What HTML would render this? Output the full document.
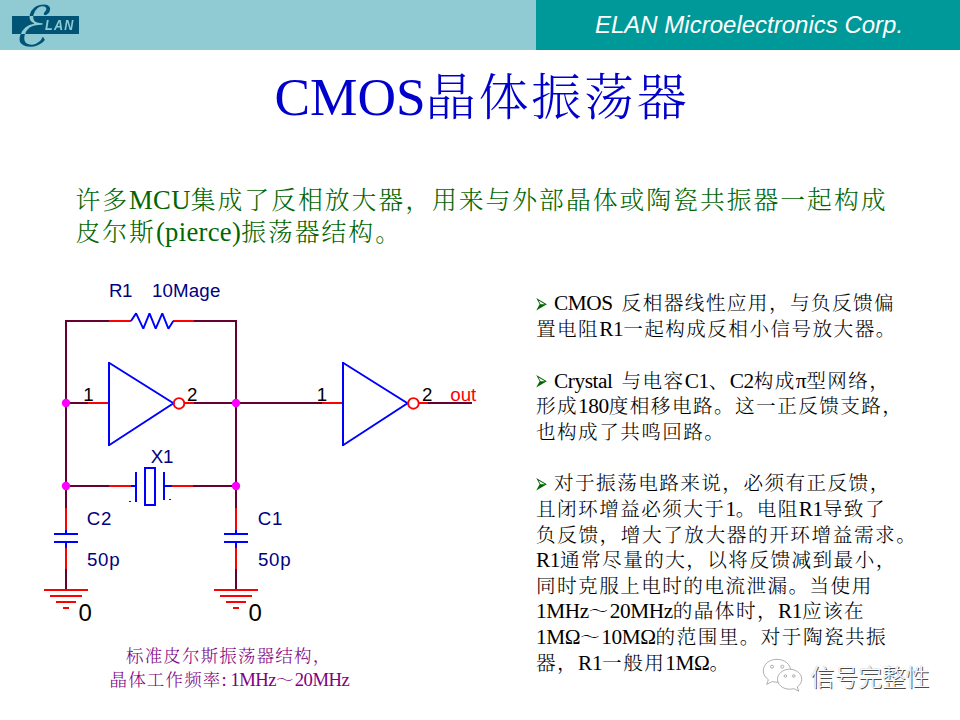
<!DOCTYPE html>
<html lang="zh-CN">
<head>
<meta charset="utf-8">
<title>CMOS晶体振荡器</title>
<style>
html,body{margin:0;padding:0;background:#fff;}
body{width:960px;height:720px;position:relative;overflow:hidden;font-family:"Liberation Serif","Noto Serif CJK SC",serif;}
.abs{position:absolute;white-space:nowrap;}
#hdrL{left:0;top:0;width:536px;height:50px;background:#90cbd3;}
#hdrR{left:536px;top:0;width:424px;height:50px;background:#009999;}
#logoR{left:12px;top:16.2px;width:67px;height:17.8px;background:#005577;}
#logoE{left:9.5px;top:-5px;font:56px/64px "DejaVu Sans",sans-serif;color:transparent;background:linear-gradient(#005577 0,#005577 21.2px,#90cbd3 21.2px,#90cbd3 39px,#005577 39px);-webkit-background-clip:text;background-clip:text;transform-origin:0 100%;transform:skewX(-14deg) scale(0.95,1);}
#logoL{left:44.5px;top:15.6px;font:italic bold 15px/18px "Liberation Sans",sans-serif;letter-spacing:1.5px;color:#90cbd3;transform-origin:0 0;transform:scaleX(0.84);}
#corp{left:595px;top:11.3px;font:italic 24px/28px "Liberation Sans",sans-serif;color:#fff;}
#title{left:274.5px;top:64.5px;font-size:50px;letter-spacing:2.8px;line-height:64px;color:#0000cc;font-weight:300;}
#title .l{font-size:53.33px;letter-spacing:0;}
.sub{left:75.5px;font-size:24.8px;letter-spacing:2px;line-height:32px;color:#006600;font-weight:300;}
.sub .l{font-size:26.67px;letter-spacing:0.3px;}
.rt{font-size:19.6px;letter-spacing:1.45px;line-height:25.6px;color:#000;font-weight:300;}
.rt .l{font-size:21.3px;letter-spacing:-0.42px;word-spacing:4px;}
.cap{font-size:17.5px;letter-spacing:1.17px;line-height:22px;color:#800080;font-weight:300;}
.cap .l{font-size:18.67px;letter-spacing:-0.5px;}
.bul{left:534.5px;color:#006600;font:15.6px/20px "DejaVu Sans",sans-serif;transform-origin:0 50%;transform:scale(1,1.8);}
svg{position:absolute;left:0;top:0;}
svg text{font-family:"Liberation Sans",sans-serif;}
</style>
</head>
<body>
<div class="abs" id="hdrL"></div>
<div class="abs" id="hdrR"></div>
<div class="abs" id="logoR"></div>
<div class="abs" id="logoE">ℰ</div>
<div class="abs" id="logoL">LAN</div>
<div class="abs" id="corp">ELAN Microelectronics Corp.</div>
<div class="abs" id="title"><span class="l">CMOS</span>晶体振荡器</div>
<div class="abs sub" id="s1" style="top:184px">许多<span class="l">MCU</span>集成了反相放大器，用来与外部晶体或陶瓷共振器一起构成</div>
<div class="abs sub" id="s2" style="top:216px">皮尔斯<span class="l">(pierce)</span>振荡器结构。</div>


<div class="abs bul" id="b1" style="top:294.2px">➢</div>
<div class="abs rt" id="r1" style="left:554px;top:291.4px"><span class="l">CMOS </span>反相器线性应用，与负反馈偏</div>
<div class="abs rt" id="r2" style="left:536px;top:317.0px">置电阻<span class="l">R1</span>一起构成反相小信号放大器。</div>
<div class="abs bul" id="b4" style="top:371.4px">➢</div>
<div class="abs rt" id="r4" style="left:554px;top:368.6px"><span class="l">Crystal </span>与电容<span class="l">C1</span>、<span class="l">C2</span>构成<span class="l">π</span>型网络，</div>
<div class="abs rt" id="r5" style="left:536px;top:394.2px">形成<span class="l">180</span>度相移电路。这一正反馈支路，</div>
<div class="abs rt" id="r6" style="left:536px;top:419.8px">也构成了共鸣回路。</div>
<div class="abs bul" id="b8" style="top:474.1px">➢</div>
<div class="abs rt" id="r8" style="left:554px;top:471.3px">对于振荡电路来说，必须有正反馈，</div>
<div class="abs rt" id="r9" style="left:536px;top:496.9px">且闭环增益必须大于<span class="l">1</span>。电阻<span class="l">R1</span>导致了</div>
<div class="abs rt" id="r10" style="letter-spacing:1.6px;left:536px;top:522.5px">负反馈，增大了放大器的开环增益需求。</div>
<div class="abs rt" id="r11" style="left:536px;top:548.1px"><span class="l">R1</span>通常尽量的大，以将反馈减到最小，</div>
<div class="abs rt" id="r12" style="left:536px;top:573.7px">同时克服上电时的电流泄漏。当使用</div>
<div class="abs rt" id="r13" style="left:536px;top:599.3px"><span class="l">1MHz</span>～<span class="l">20MHz</span>的晶体时，<span class="l">R1</span>应该在</div>
<div class="abs rt" id="r14" style="left:536px;top:624.9px"><span class="l">1MΩ</span>～<span class="l">10MΩ</span>的范围里。对于陶瓷共振</div>
<div class="abs rt" id="r15" style="left:536px;top:650.5px">器，<span class="l">R1</span>一般用<span class="l">1MΩ</span>。</div>
<div class="abs cap" id="c1" style="left:126px;top:644.5px">标准皮尔斯振荡器结构，</div>
<div class="abs cap" id="c2" style="left:109.5px;top:668.5px">晶体工作频率<span class="l">: 1MHz</span>～<span class="l">20MHz</span></div>

<div class="abs" id="wm" style="left:810.6px;top:662px;font:23.8px/32px 'Liberation Sans','Noto Sans CJK SC',sans-serif;font-weight:300;color:#fff;text-shadow:1px 1px 0.5px #4a4a4a,0 0 1px #999;">信号完整性</div>

<svg id="circ" width="960" height="720" viewBox="0 0 960 720">
<g fill="none" stroke-width="2" shape-rendering="crispEdges">
  <!-- wires (dark) -->
  <g stroke="#660033">
    <path d="M66 321V508"/>
    <path d="M236 321V508"/>
    <path d="M65 321H109"/>
    <path d="M194 321H237"/>
    <path d="M66 403H88"/>
    <path d="M194 403H322"/>
    <path d="M428 403H472"/>
    <path d="M66 486H109"/>
    <path d="M193 486H236"/>
    <path d="M66 569V590"/>
    <path d="M236 569V590"/>
  </g>
  <!-- pins (red) -->
  <g stroke="#ff0000">
    <path d="M109 321H131"/>
    <path d="M173 321H194"/>
    <path d="M88 403H109"/>
    <path d="M185 403H194"/>
    <path d="M322 403H343"/>
    <path d="M419 403H428"/>
    <path d="M109 486H131"/>
    <path d="M172 486H193"/>
    <path d="M66 508V530"/>
    <path d="M66 548V569"/>
    <path d="M236 508V530"/>
    <path d="M236 548V569"/>
    <!-- grounds -->
    <path d="M44 590H88M50 596H82M56 602H76M63 608H69"/>
    <path d="M214 590H258M220 596H252M226 602H246M233 608H239"/>
  </g>
  <!-- symbols (blue) -->
  <g stroke="#0000ff">
    <path d="M131 321L136.100 313.400L143.300 328.700L149.500 313.400L155.700 328.700L162.300 313.400L168.400 328.700L173.300 321" shape-rendering="auto" stroke-width="1.9" stroke-linejoin="bevel"/>
    <path d="M109 362V446"/><path d="M109 362.8L173.500 403.300L109 445.200" shape-rendering="auto" stroke-width="1.9"/>
    <path d="M343 362V446"/><path d="M343 362.800L407.500 403.300L343 445.200" shape-rendering="auto" stroke-width="1.9"/>
    <!-- crystal -->
    <path d="M131 486H136M136 472V502M145 468H155V505H145ZM164 472V500M164 486H172"/>
    <path d="M129 501H131M169 499H171" stroke-width="1"/>
    <!-- caps -->
    <path d="M66 530V534M54 534H78M54 542H78M66 542V548"/>
    <path d="M236 530V534M224 534H248M224 542H248M236 542V548"/>
  </g>
  <!-- bubbles -->
  <g stroke="#ff0000" shape-rendering="auto" stroke-width="1.9">
    <circle cx="179" cy="403.400" r="5.300"/>
    <circle cx="413.400" cy="403.400" r="5.300"/>
  </g>
</g>
<g fill="#ff00ff">
  <circle cx="66" cy="403" r="4.2"/><circle cx="236" cy="403" r="4.2"/>
  <circle cx="66" cy="486" r="4.2"/><circle cx="236" cy="486" r="4.2"/>
</g>
<g font-size="18.700px" fill="#000080" letter-spacing="0.2">
  <text x="109" y="297" letter-spacing="-0.6">R1</text><text x="152" y="297" letter-spacing="0.15">10Mage</text>
  <text x="150.800" y="463" letter-spacing="-0.3">X1</text>
  <text x="86.700" y="525" letter-spacing="0.7">C2</text><text x="87" y="566" letter-spacing="0.7">50p</text>
  <text x="257.700" y="525" letter-spacing="0.7">C1</text><text x="258" y="566" letter-spacing="0.7">50p</text>
</g>
<g font-size="18.700px" fill="#000">
  <text x="83.200" y="400.800">1</text><text x="187" y="400.800">2</text>
  <text x="316.700" y="400.800">1</text><text x="422" y="400.800">2</text>
</g>
<text x="450.300" y="400.800" font-size="18.700px" fill="#ff0000">out</text>
<g font-size="24px" fill="#000"><text x="78.600" y="620.800">0</text><text x="248.600" y="620.800">0</text></g>
<g id="wechat" fill="#fff" stroke="#9a9a9a" stroke-width="0.8">
  <path d="M777 659.300c-7.600 0-13.700 5.100-13.700 11.500 0 3.600 2 6.800 5.100 8.900l-1.700 4.700 5.600-2.900c1.500 0.400 3.100 0.700 4.700 0.700 7.600 0 13.700-5.100 13.700-11.400 0-6.400-6.100-11.500-13.700-11.500z"/>
  <circle cx="772" cy="666.700" r="1.500"/><circle cx="782.300" cy="666.700" r="1.500"/>
  <path d="M789.600 669.200c6.700 0 12.100 4.500 12.100 10 0 3.100-1.700 5.900-4.400 7.700l1.400 4.300-4.900-2.600c-1.300 0.400-2.700 0.600-4.200 0.600-6.700 0-12.100-4.500-12.100-10s5.400-10 12.100-10z"/>
  <circle cx="785.400" cy="676" r="1.300"/><circle cx="793.800" cy="676" r="1.300"/>
</g>
</svg>
</body>
</html>
